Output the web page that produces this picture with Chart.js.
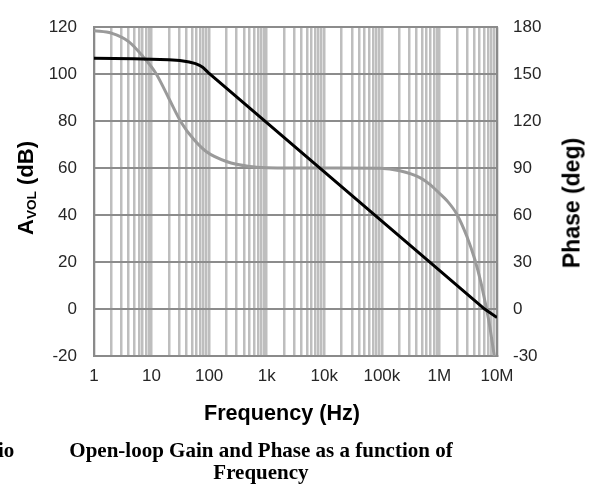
<!DOCTYPE html>
<html>
<head>
<meta charset="utf-8">
<script src="https://cdn.jsdelivr.net/npm/chart.js@4/dist/chart.umd.min.js"></script>
<style>
html, body { margin: 0; padding: 0; background: #fff; }
#wrap { position: relative; width: 589px; height: 490px; overflow: hidden; background: #fff; }
#c { position: absolute; left: 0; top: 0; }
.ax { position: absolute; white-space: nowrap; font-family: "Liberation Sans", Arial, sans-serif; font-weight: bold; font-size: 21px; line-height: 1; color: #000; }
.rot { transform: translate(-50%, -50%) rotate(-90deg); }
.ax sub { font-size: 0.62em; vertical-align: -0.25em; line-height: 0; }
.cap { position: absolute; white-space: nowrap; font-family: "Liberation Serif", "Times New Roman", serif; font-weight: bold; font-size: 21px; line-height: 22px; color: #000; }
</style>
</head>
<body>
<div id="wrap">
  <canvas id="c" width="589" height="490"></canvas>
  <div class="ax rot" style="left:26px; top:188px; font-size:22px;">A<sub>VOL</sub> (dB)</div>
  <div class="ax rot" style="left:572px; top:203px; font-size:23px;">Phase (deg)</div>
  <div class="ax" style="left:282px; top:402px; font-size:21.6px; transform: translateX(-50%);">Frequency (Hz)</div>
  <div class="cap" style="left:-2px; top:439px;">io</div>
  <div class="cap" style="left:261px; top:439px; transform: translateX(-50%); text-align:center;">Open-loop Gain and Phase as a function of<br>Frequency</div>
</div>
<script>
// ---- data ----
const decadeTicks  = [1, 10, 100, 1000, 10000, 100000, 1000000, 10000000];
const decadeLabels = ['1', '10', '100', '1k', '10k', '100k', '1M', '10M'];
const minorSteps   = [1, 2, 3, 4, 5, 6, 7, 8, 9];
const gainTicks    = [-20, 0, 20, 40, 60, 80, 100, 120];
const phaseTicks   = [-30, 0, 30, 60, 90, 120, 150, 180];

const gainFreq = [1, 5, 10, 20, 31, 45, 58, 68, 78, 90, 100, 1000, 10000, 100000, 1000000, 6100000, 10000000];
const gainDb   = [106.8, 106.6, 106.4, 106.1, 105.8, 105.2, 104.5, 103.8, 102.9, 101.4, 100.3, 79.4, 58.4, 37.4, 16.5, 0, -3.6];

const phaseFreq = [1, 2, 4, 7, 12, 20, 33, 53, 90, 200, 500, 1000, 10000, 93000, 205000, 457000, 681000, 938000, 1344000, 2005000, 2990000, 4120000, 5240000, 6140000, 6920000, 7500000, 8120000, 8980000];
const phaseDeg  = [177.8, 176.2, 170.8, 161.5, 150.3, 134.5, 119, 108.7, 100.4, 94.2, 91.0, 90.3, 90, 89.9, 88.3, 83.9, 79.6, 74.9, 69.3, 60.6, 46.5, 31.6, 17.2, 5.4, -4.0, -11.2, -19.6, -30.2];

// ---- chart ----
const FONT = '"Liberation Sans", Arial, sans-serif';
const gridFreqs = [];
decadeTicks.slice(0, -1).forEach(d => minorSteps.forEach(m => gridFreqs.push(m * d)));
gridFreqs.push(decadeTicks[decadeTicks.length - 1]);

const tickFont = { family: FONT, size: 17 };
const tickColor = '#262626';

new Chart(document.getElementById('c'), {
  type: 'line',
  data: {
    datasets: [
      {
        label: 'Gain',
        data: gainFreq.map((f, i) => ({ x: f, y: gainDb[i] })),
        yAxisID: 'y',
        borderColor: '#000000',
        borderWidth: 3,
        pointRadius: 0,
        tension: 0,
        order: 0
      },
      {
        label: 'Phase',
        data: phaseFreq.map((f, i) => ({ x: f, y: phaseDeg[i] })),
        yAxisID: 'y1',
        borderColor: '#9a9a9a',
        borderWidth: 3,
        pointRadius: 0,
        cubicInterpolationMode: 'monotone',
        order: 1
      }
    ]
  },
  options: {
    responsive: false,
    animation: false,
    devicePixelRatio: 1,
    layout: { padding: { top: 19, bottom: 62, left: 0, right: 0 } },
    plugins: { legend: { display: false }, tooltip: { enabled: false }, title: { display: false } },
    scales: {
      x: {
        type: 'logarithmic',
        position: 'bottom',
        min: 1,
        max: 10000000,
        afterBuildTicks: s => { s.ticks = gridFreqs.map(v => ({ value: v })); },
        afterFit: s => { s.height = 72; },
        ticks: {
          autoSkip: false,
          maxRotation: 0,
          minRotation: 0,
          padding: 10,
          color: tickColor,
          font: tickFont,
          callback: v => { const i = decadeTicks.indexOf(v); return i >= 0 ? decadeLabels[i] : ''; }
        },
        grid: { color: '#bebebe', lineWidth: 2.5, drawTicks: false, z: -2 },
        border: { color: '#8a8a8a', width: 2 }
      },
      y: {
        position: 'left',
        min: -20,
        max: 120,
        afterBuildTicks: s => { s.ticks = gainTicks.map(v => ({ value: v })); },
        afterFit: s => { s.width = 94; },
        ticks: { padding: 17, color: tickColor, font: tickFont },
        grid: { color: '#8c8c8c', lineWidth: 2, drawTicks: false, z: -1 },
        border: { color: '#8a8a8a', width: 2 }
      },
      y1: {
        position: 'right',
        min: -30,
        max: 180,
        afterBuildTicks: s => { s.ticks = phaseTicks.map(v => ({ value: v })); },
        afterFit: s => { s.width = 92; },
        ticks: { padding: 16, color: tickColor, font: tickFont },
        grid: { drawOnChartArea: false, drawTicks: false },
        border: { color: '#8a8a8a', width: 2 }
      }
    }
  }
});
</script>
</body>
</html>
